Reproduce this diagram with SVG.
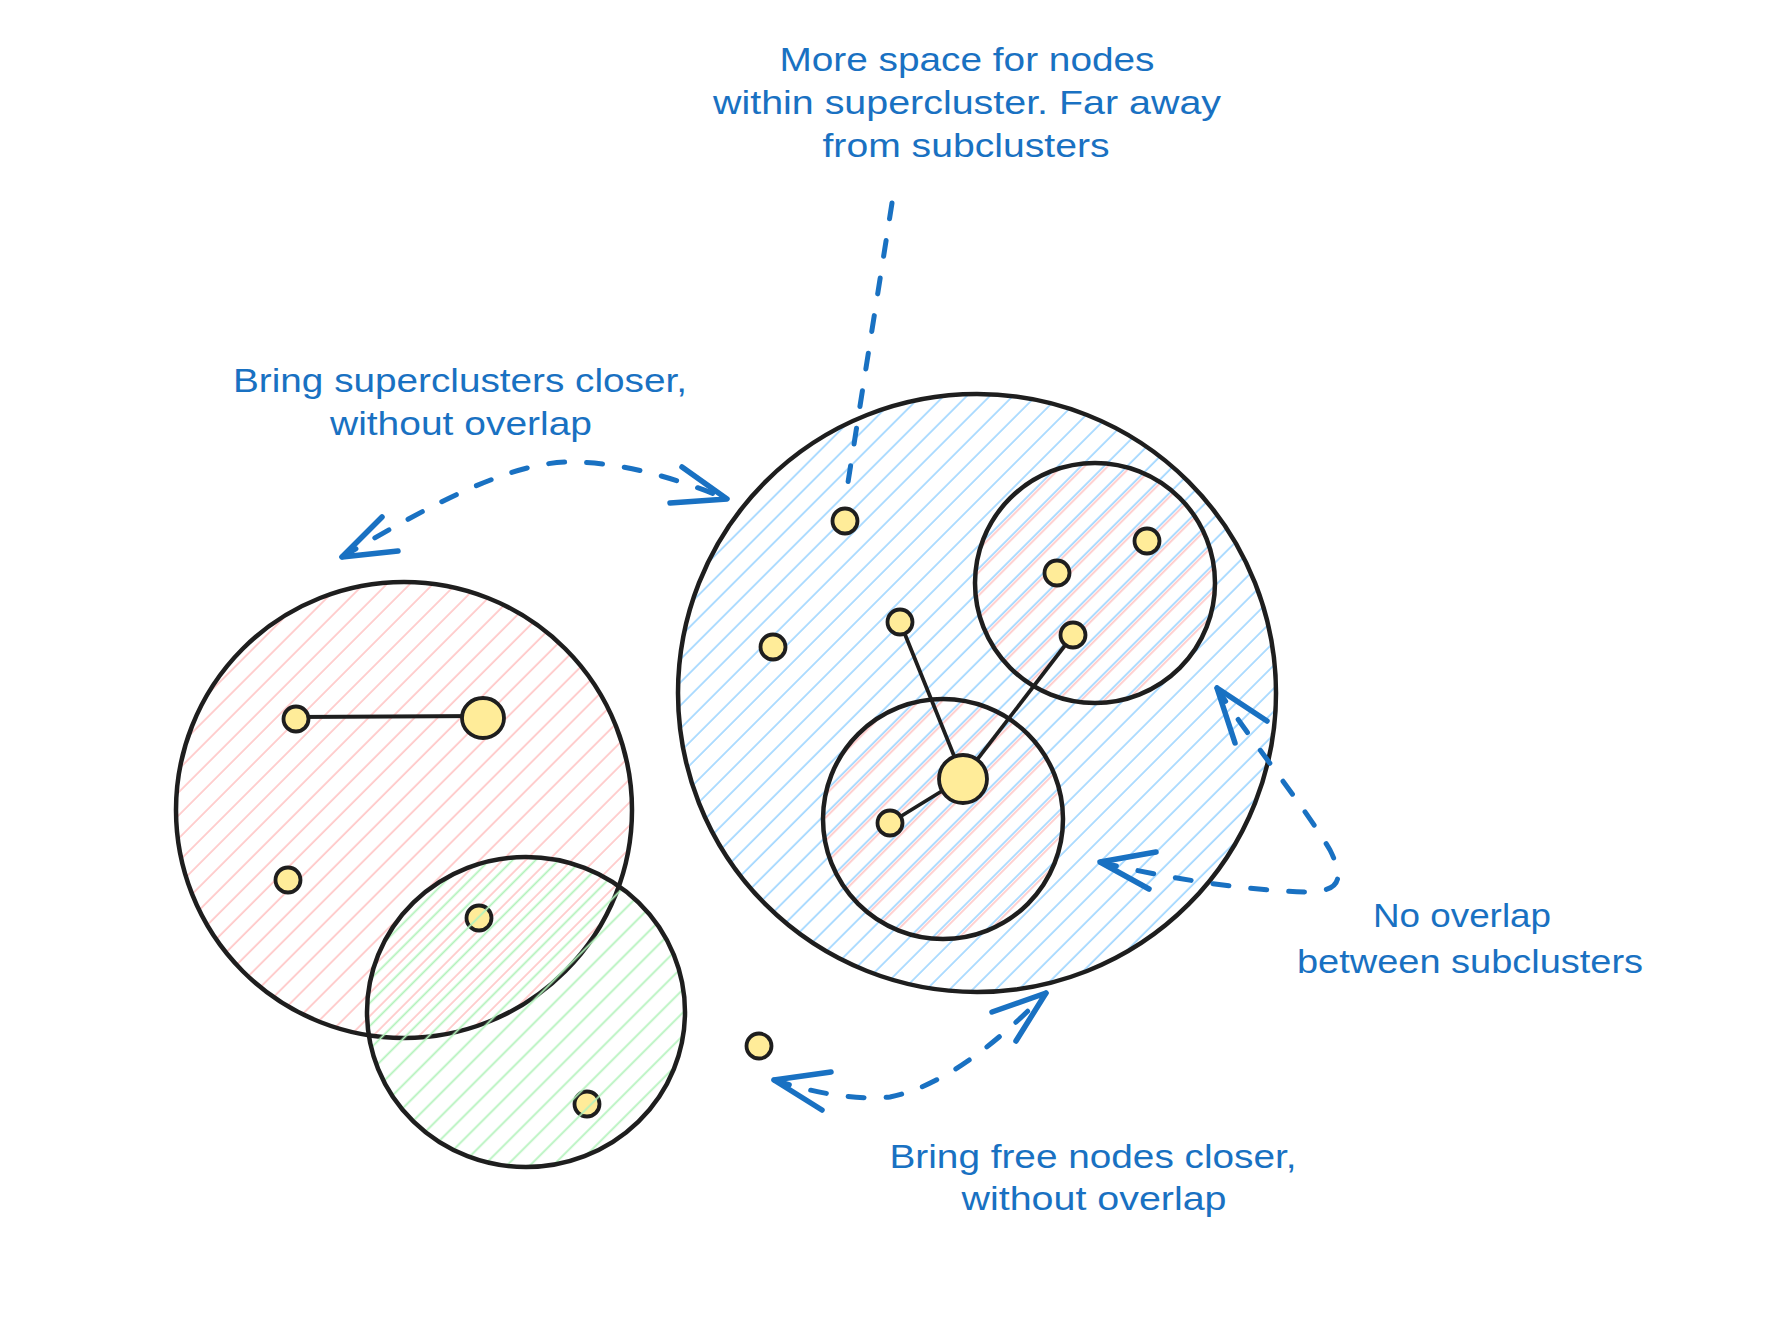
<svg xmlns="http://www.w3.org/2000/svg" width="1786" height="1336" viewBox="0 0 1786 1336">
<style>
.cl{stroke:#1e1e1e;stroke-width:4.5;}
.nd{fill:#ffec99;stroke:#1e1e1e;stroke-width:3.8;}
.ed{stroke:#1e1e1e;stroke-width:3.8;stroke-linecap:round;fill:none;}
.ar{stroke:#1971c2;stroke-width:5;stroke-linecap:round;fill:none;stroke-dasharray:16 22;}
.ah{stroke:#1971c2;stroke-width:5.5;stroke-linecap:round;stroke-linejoin:round;fill:none;}
.tx{font-family:"Liberation Sans","Noto Sans",sans-serif;font-size:34px;fill:#1971c2;text-anchor:middle;}
</style>
<defs>
<pattern id="hBlue" patternUnits="userSpaceOnUse" width="16.3" height="30" patternTransform="rotate(45)"><line x1="2" y1="-5" x2="2" y2="35" stroke="#a5d8ff" stroke-width="1.8"/></pattern>
<pattern id="hRedIn" patternUnits="userSpaceOnUse" width="16.3" height="30" patternTransform="rotate(45)"><line x1="4.6" y1="-5" x2="4.6" y2="35" stroke="#ffc9c9" stroke-width="1.8"/></pattern>
<pattern id="hRed" patternUnits="userSpaceOnUse" width="16.3" height="30" patternTransform="rotate(45)"><line x1="2" y1="-5" x2="2" y2="35" stroke="#ffc9c9" stroke-width="1.8"/></pattern>
<pattern id="hGreen" patternUnits="userSpaceOnUse" width="16.3" height="30" patternTransform="rotate(45)"><line x1="9" y1="-5" x2="9" y2="35" stroke="#b2f2bb" stroke-width="1.8"/></pattern>
</defs>
<rect width="1786" height="1336" fill="#ffffff"/>

<g id="cluster-red">
<ellipse cx="404" cy="810" rx="228" ry="228" fill="url(#hRed)" class="cl"/>
</g>

<g id="cluster-blue">
<ellipse cx="977" cy="693" rx="299" ry="299" fill="url(#hBlue)" class="cl"/>
</g>
<g id="subcluster-top">
<ellipse cx="1095" cy="583" rx="120" ry="120" fill="url(#hRedIn)" class="cl"/>
</g>
<g id="subcluster-bottom">
<ellipse cx="943" cy="819" rx="120" ry="120" fill="url(#hRedIn)" class="cl"/>
</g>

<g id="connectors">
<line class="ed" x1="296" y1="717" x2="483" y2="716"/>
<line class="ed" x1="900" y1="622" x2="963" y2="778"/>
<line class="ed" x1="1073" y1="635" x2="963" y2="778"/>
<line class="ed" x1="890" y1="823" x2="963" y2="778"/>

<path class="ar" d="M 342 557 C 430 505, 510 462, 570 462 C 625 462, 680 480, 727 499"/>
<polyline class="ah" points="382,517 342,557 398,551"/>
<polyline class="ah" points="682,467 727,499 670,503"/>

<line class="ar" x1="892" y1="203" x2="846" y2="495"/>

<path class="ar" d="M 1217 688 C 1250 740, 1300 800, 1330 850 C 1345 880, 1340 892, 1305 892 C 1240 890, 1160 877, 1100 862"/>
<polyline class="ah" points="1267,721 1217,688 1235,743"/>
<polyline class="ah" points="1156,852 1100,862 1149,889"/>

<path class="ar" d="M 774 1080 C 820 1095, 860 1100, 890 1097 C 950 1085, 1010 1030, 1046 993"/>
<polyline class="ah" points="831,1072 774,1080 822,1110"/>
<polyline class="ah" points="992,1012 1046,993 1016,1041"/>
</g>

<g id="node-r1"><circle class="nd" cx="296" cy="719" r="12.5"/></g>
<g id="node-r2"><ellipse class="nd" cx="483" cy="718" rx="21" ry="20"/></g>
<g id="node-r3"><circle class="nd" cx="288" cy="880" r="12.5"/></g>
<g id="node-g1"><circle class="nd" cx="479" cy="918" r="12.5"/></g>
<g id="node-g2"><circle class="nd" cx="587" cy="1104" r="12.5"/></g>
<g id="node-free"><circle class="nd" cx="759" cy="1046" r="12.5"/></g>
<g id="node-b1"><circle class="nd" cx="845" cy="521" r="12.5"/></g>
<g id="node-b2"><circle class="nd" cx="773" cy="647" r="12.5"/></g>
<g id="node-b3"><circle class="nd" cx="900" cy="622" r="12.5"/></g>
<g id="node-s1"><circle class="nd" cx="1057" cy="573" r="12.5"/></g>
<g id="node-s2"><circle class="nd" cx="1147" cy="541" r="12.5"/></g>
<g id="node-s3"><circle class="nd" cx="1073" cy="635" r="12.5"/></g>
<g id="node-c1"><circle class="nd" cx="963" cy="779" r="24"/></g>
<g id="node-c2"><circle class="nd" cx="890" cy="823" r="12.5"/></g>

<g id="cluster-green">
<ellipse cx="526" cy="1012" rx="159" ry="155" fill="url(#hGreen)" class="cl"/>
</g>

<g id="labels">
<text class="tx" x="967" y="71" textLength="375" lengthAdjust="spacingAndGlyphs">More space for nodes</text>
<text class="tx" x="967" y="114" textLength="508" lengthAdjust="spacingAndGlyphs">within supercluster. Far away</text>
<text class="tx" x="966" y="157" textLength="287" lengthAdjust="spacingAndGlyphs">from subclusters</text>
<text class="tx" x="460" y="392" textLength="454" lengthAdjust="spacingAndGlyphs">Bring superclusters closer,</text>
<text class="tx" x="461" y="435" textLength="262" lengthAdjust="spacingAndGlyphs">without overlap</text>
<text class="tx" x="1462" y="927" textLength="178" lengthAdjust="spacingAndGlyphs">No overlap</text>
<text class="tx" x="1470" y="973" textLength="346" lengthAdjust="spacingAndGlyphs">between subclusters</text>
<text class="tx" x="1093" y="1168" textLength="407" lengthAdjust="spacingAndGlyphs">Bring free nodes closer,</text>
<text class="tx" x="1094" y="1210" textLength="265" lengthAdjust="spacingAndGlyphs">without overlap</text>
</g>
</svg>
